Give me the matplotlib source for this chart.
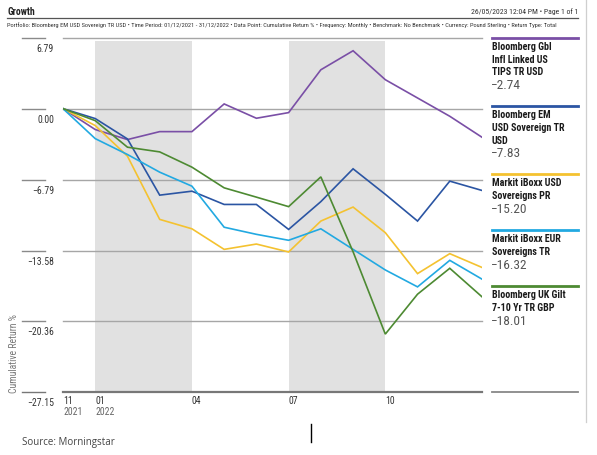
import matplotlib
matplotlib.use('Agg')
import matplotlib.pyplot as plt
from matplotlib.lines import Line2D
from matplotlib import transforms
from matplotlib.transforms import offset_copy

# ---- data ----
months = ['2021-11', '2021-12', '2022-01', '2022-02', '2022-03', '2022-04', '2022-05',
          '2022-06', '2022-07', '2022-08', '2022-09', '2022-10', '2022-11', '2022-12']
series_names = ['Bloomberg Gbl\nInfl Linked US\nTIPS TR USD',
                'Bloomberg EM\nUSD Sovereign TR\nUSD',
                'Markit iBoxx USD\nSovereigns PR',
                'Markit iBoxx EUR\nSovereigns TR',
                'Bloomberg UK Gilt\n7-10 Yr TR GBP']
tips = [0, -2.0, -2.96, -2.2, -2.2, 0.45, -0.92, -0.38, 3.72, 5.54, 2.77, 1.02, -0.73, -2.74]
em_sov = [0, -0.95, -2.9, -8.28, -7.9, -9.17, -9.17, -11.56, -8.9, -5.76, -8.2, -10.76, -6.94, -7.83]
usd_sov = [0, -1.62, -4.55, -10.6, -11.5, -13.47, -12.96, -13.72, -10.76, -9.42, -11.87, -15.79, -13.88, -15.20]
eur_sov = [0, -2.87, -4.39, -6.08, -7.42, -11.35, -12.03, -12.6, -11.5, -13.47, -15.44, -17.06, -14.52, -16.32]
gilt = [0, -1.15, -3.69, -4.14, -5.6, -7.58, -8.47, -9.38, -6.53, -13.7, -21.58, -17.76, -15.28, -18.01]
final_values = ['\u22122.74', '\u22127.83', '\u221215.20', '\u221216.32', '\u221218.01']
yticks = [6.79, 0.00, -6.79, -13.58, -20.36, -27.15]
xtick_idx = [0, 1, 4, 7, 10]
xtick_top = ['11', '01', '04', '07', '10']
xtick_year = ['2021', '2022', '', '', '']
shade_spans = [(1, 4), (7, 10)]

colors = ['#7a4fa6', '#2b55a3', '#f4c230', '#22a9e1', '#4d8a32']
all_series = [tips, em_sov, usd_sov, eur_sov, gilt]

NARROW = ['Roboto Condensed', 'Liberation Sans Narrow', 'DejaVu Sans']
plt.rcParams['font.family'] = NARROW
plt.rcParams['font.stretch'] = 'condensed'

W, H = 597, 456
fig = plt.figure(figsize=(W / 100, H / 100), dpi=100)


def fx(x):
    return x / W


def fy(y):
    return 1 - y / H


# header
fig.text(fx(7), fy(12), 'Growth', fontsize=7.0, fontweight='bold', va='center', color='#222')
fig.text(fx(578), fy(12), '26/05/2023 12:04 PM \u2022 Page 1 of 1', fontsize=5.6,
         ha='right', va='center', color='#333')
fig.add_artist(Line2D([fx(7), fx(578)], [fy(19), fy(19)], color='#555', lw=0.9))
fig.text(fx(7), fy(25.5),
         'Portfolio: Bloomberg EM USD Sovereign TR USD \u2022 Time Period: 01/12/2021 - 31/12/2022 '
         '\u2022 Data Point: Cumulative Return % \u2022 Frequency: Monthly \u2022 Benchmark: No Benchmark '
         '\u2022 Currency: Pound Sterling \u2022 Return Type: Total',
         fontsize=4.6, va='center', color='#333')

# right border
fig.add_artist(Line2D([fx(585.5), fx(585.5)], [fy(0), fy(423)], color='#cfcfcf', lw=0.9))

# main axes
top_px, bot_px, left_px, right_px = 38.7, 393.3, 63, 482
ax = fig.add_axes([fx(left_px), fy(bot_px), (right_px - left_px) / W, (bot_px - top_px) / H])
ax.set_xlim(0, len(months) - 1)
ax.set_ylim(yticks[-1], yticks[0])
for s in ax.spines.values():
    s.set_visible(False)
ax.set_xticks([])
ax.set_yticks([])
ax.patch.set_alpha(0)

for a, b in shade_spans:
    ax.axvspan(a, b, ymin=0, ymax=0.992, color='#e1e1e1', lw=0, zorder=0)

for v in yticks:
    is_bottom = v == yticks[-1]
    ax.axhline(v, color='#777' if is_bottom else '#a6a6a6', lw=1.6 if is_bottom else 1.0,
               zorder=1, clip_on=False)

xs = list(range(len(months)))
for vals, c in zip(all_series, colors):
    ax.plot(xs, vals, color=c, lw=1.2, zorder=3, solid_joinstyle='miter')

# y tick labels + short left segments
ytrans = transforms.blended_transform_factory(ax.transAxes, ax.transData)
ylab_trans = offset_copy(ytrans, fig=fig, y=-10, units='dots')
span = right_px - left_px
for v in yticks:
    lab = ('%.2f' % v).replace('-', '\u2212')
    ax.text((54 - left_px) / span, v, lab, transform=ylab_trans, ha='right', va='center',
            fontsize=7.0, color='#333')
    ax.plot([(22 - left_px) / span, (45 - left_px) / span], [v, v], transform=ytrans,
            color='#777' if v == yticks[-1] else '#8a8a8a', lw=1.0, clip_on=False)

# x tick labels
xtrans = transforms.blended_transform_factory(ax.transData, ax.transAxes)
for i, t, yr in zip(xtick_idx, xtick_top, xtick_year):
    ax.text(i, 0, t, transform=offset_copy(xtrans, fig=fig, y=-7.5, units='dots'),
            ha='left', va='center', fontsize=7.0, color='#333')
    if yr:
        ax.text(i, 0, yr, transform=offset_copy(xtrans, fig=fig, y=-18.5, units='dots'),
                ha='left', va='center', fontsize=7.0, color='#666')

# y axis title
fig.text(fx(14), fy(393), 'Cumulative Return %', rotation=90, ha='center', va='bottom',
         fontsize=7.0, color='#777')

# legend panel
leg_lines = [38.5, 106.7, 175, 231, 286.7]
for name, val, c, ly in zip(series_names, final_values, colors, leg_lines):
    fig.add_artist(Line2D([fx(492), fx(578)], [fy(ly), fy(ly)], color=c, lw=2))
    rows = name.split('\n')
    for k, r in enumerate(rows):
        fig.text(fx(492), fy(ly + 8.5 + 12.7 * k), r, fontsize=7.2, fontweight='bold',
                 va='center', color='#1a1a1a')
    fig.text(fx(491), fy(ly + 8.5 + 12.7 * (len(rows) - 1) + 13.3), val, fontsize=9.6,
             va='center', color='#555')
fig.add_artist(Line2D([fx(492), fx(578)], [fy(393.3), fy(393.3)], color='#888', lw=1.3))

# footer
fig.text(fx(22), fy(443), 'Source: Morningstar', fontsize=7.0, va='center', color='#444',
         family=['Open Sans', 'DejaVu Sans'], stretch='normal')
fig.add_artist(Line2D([fx(310.7), fx(310.7)], [fy(425), fy(442.7)], color='black', lw=1))

fig.savefig('out.png', dpi=100)
